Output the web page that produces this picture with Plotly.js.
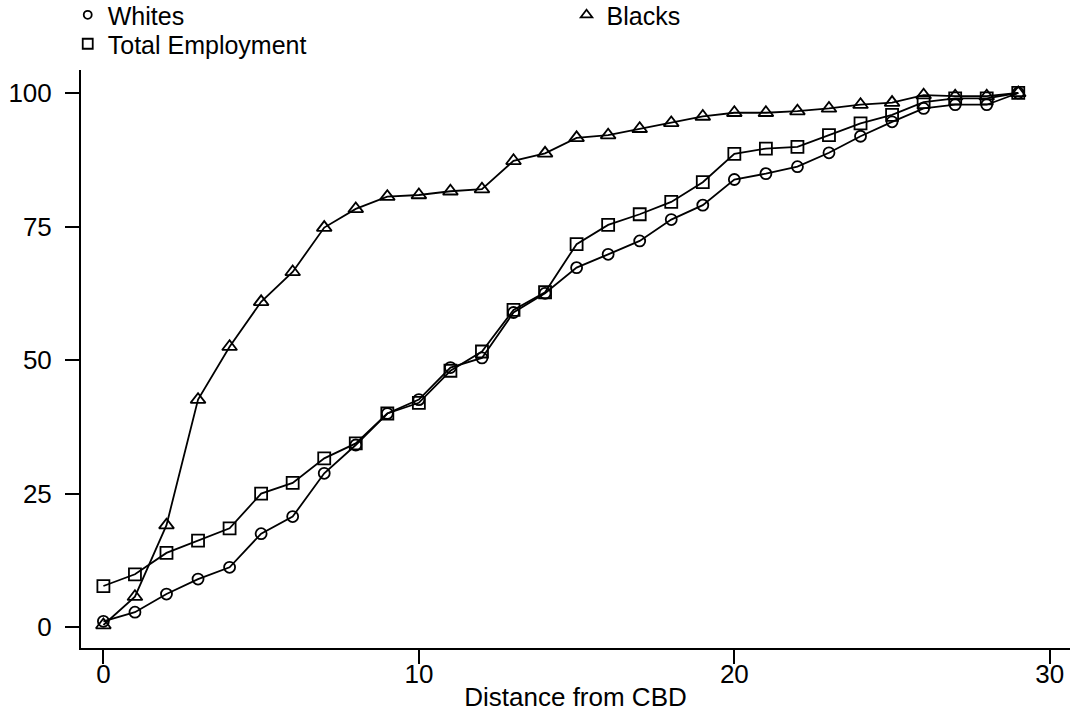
<!DOCTYPE html>
<html>
<head>
<meta charset="utf-8">
<script src="https://cdn.plot.ly/plotly-3.0.1.min.js"></script>
<style>html,body{margin:0;padding:0;background:#fff;}#chart{width:1075px;height:719px;}</style>
</head>
<body>
<div id="chart"></div>
<script>
const distance = [0,1,2,3,4,5,6,7,8,9,10,11,12,13,14,15,16,17,18,19,20,21,22,23,24,25,26,27,28,29];
const whites = [1.1,2.8,6.2,9.0,11.2,17.5,20.7,28.8,34.1,40.0,42.6,48.6,50.4,58.9,62.5,67.3,69.8,72.3,76.3,79.0,83.8,84.9,86.2,88.8,91.9,94.6,97.1,97.8,97.8,100];
const blacks = [0.4,5.7,19.1,42.6,52.5,60.9,66.5,74.8,78.3,80.6,80.9,81.6,82.0,87.3,88.7,91.6,92.1,93.3,94.4,95.6,96.3,96.3,96.6,97.1,97.8,98.2,99.6,99.4,99.4,100];
const totalEmp = [7.7,9.9,13.9,16.2,18.5,25.0,27.0,31.6,34.4,40.0,42.0,48.0,51.6,59.4,62.7,71.7,75.3,77.3,79.6,83.3,88.6,89.6,89.9,92.1,94.3,95.9,98.3,99.0,99.0,100];
const xTicks = [0,10,20,30];
const yTicks = [0,25,50,75,100];

const FONT = 'Liberation Sans, Arial, sans-serif';
const FS = 26;
const LFS = 25;
const LW = 1.8;
function series(y, sym, size){
  return {x: distance, y: y, type:'scatter', mode:'lines+markers', showlegend:false,
    line:{color:'#000', width:LW},
    marker:{symbol:sym, size:size, color:'#000', line:{color:'#000', width:1.8}}};
}
function legendItem(name, sym, size, leg){
  return {x:[null], y:[null], type:'scatter', mode:'markers', name:name, legend:leg,
    marker:{symbol:sym, size:size, color:'#000', line:{color:'#000', width:1.8}}};
}
const data = [
  series(whites, 'circle-open', 11),
  series(blacks, 'triangle-up-open', 13),
  series(totalEmp, 'square-open', 12),
  legendItem('Whites', 'circle-open', 8, 'legend'),
  legendItem('Blacks', 'triangle-up-open', 10, 'legend2'),
  legendItem('Total Employment', 'square-open', 10, 'legend3')
];
function leg(x, y){
  return {x:x, y:y, xref:'container', yref:'container', xanchor:'left', yanchor:'middle',
    bgcolor:'rgba(0,0,0,0)', borderwidth:0, font:{family:FONT, size:LFS, color:'#000'}};
}
const layout = {
  width:1075, height:719,
  margin:{l:81, r:5, t:70, b:71, autoexpand:false},
  paper_bgcolor:'#fff', plot_bgcolor:'#fff',
  font:{family:FONT, size:FS, color:'#000'},
  xaxis:{range:[-0.71,30.64], tickvals:xTicks, ticktext:xTicks.map(String), showgrid:false, zeroline:false,
    showline:true, linecolor:'#000', linewidth:2, ticks:'outside', ticklen:14, tickwidth:2, tickcolor:'#000',
    tickfont:{family:FONT, size:FS}, ticklabelstandoff:-12, automargin:false,
    title:{text:'Distance from CBD', font:{family:FONT, size:FS}, standoff:0}},
  yaxis:{range:[-3.9,104.3], tickvals:yTicks, ticktext:yTicks.map(String), showgrid:false, zeroline:false,
    showline:true, linecolor:'#000', linewidth:2, ticks:'outside', ticklen:14, tickwidth:2, tickcolor:'#000',
    tickfont:{family:FONT, size:FS}, ticklabelstandoff:8, automargin:false},
  legend: leg(0.063, 0.9791),
  legend2: leg(0.527, 0.9791),
  legend3: leg(0.063, 0.9388),
  showlegend:true
};
Plotly.newPlot('chart', data, layout, {displayModeBar:false, staticPlot:true});
</script>
</body>
</html>
